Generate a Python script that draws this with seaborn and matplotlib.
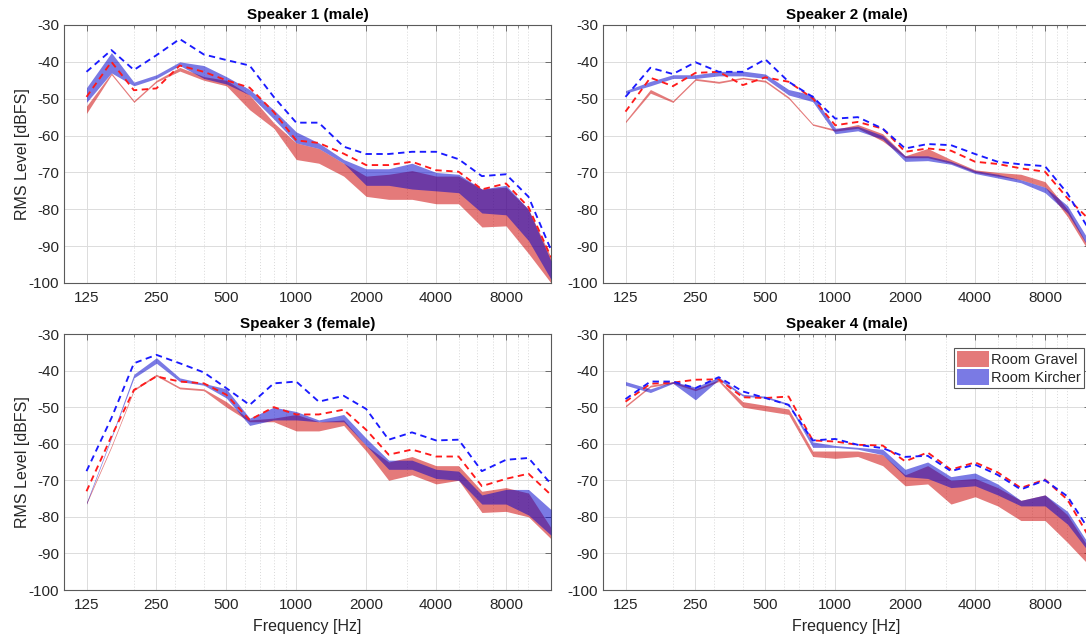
import numpy as np
import pandas as pd
import matplotlib
matplotlib.use("Agg")
import matplotlib.pyplot as plt
import seaborn as sns
from matplotlib.ticker import FixedLocator, FixedFormatter, LogLocator, NullFormatter
from matplotlib.patches import Patch

# ---------------- data ----------------
freqs = [125, 160, 200, 250, 315, 400, 500, 630, 800, 1000, 1250, 1600,
         2000, 2500, 3150, 4000, 5000, 6300, 8000, 10000, 12500]
xtick_vals = [125, 250, 500, 1000, 2000, 4000, 8000]
xtick_labels = ["125", "250", "500", "1000", "2000", "4000", "8000"]
ytick_vals = [-100, -90, -80, -70, -60, -50, -40, -30]
titles = ["Speaker 1 (male)", "Speaker 2 (male)", "Speaker 3 (female)", "Speaker 4 (male)"]
rooms = ["Room Gravel", "Room Kircher"]

# Speaker 1
s1_gravel_lo = [-54, -43.5, -51, -45.5, -42.5, -45, -46.5, -53, -58, -66.5, -67.5, -71,
                -76.5, -77.3, -77.3, -78.5, -78.5, -84.8, -84.5, -92, -100]
s1_gravel_hi = [-52, -43, -50.5, -45, -41.5, -44, -45, -49, -56.5, -62, -63.5, -67.5,
                -71, -70.5, -69.5, -71, -71, -74.5, -74, -80, -93]
s1_kircher_lo = [-51, -43, -46.5, -44.5, -41, -44.5, -46, -49, -55.5, -62, -63.5, -67.5,
                 -73.5, -73.5, -74.5, -75, -75.5, -81, -81.5, -88.5, -99]
s1_kircher_hi = [-47, -37.5, -45.5, -43.5, -40, -41, -44, -47.5, -53, -59, -62, -66.5,
                 -69, -69, -67.5, -70, -70.5, -74.5, -73.5, -80, -94]
s1_gravel_dash = [-49.5, -40, -47.7, -47.2, -41, -42.7, -45, -47, -53.6, -61.3, -62, -64.9,
                  -68, -68, -67.1, -69.4, -69.8, -74.6, -73, -79.4, -93]
s1_kircher_dash = [-42.7, -36.8, -42.2, -38.2, -33.8, -38, -39.5, -41, -49.5, -56.5, -56.5, -63,
                   -65, -65, -64.4, -64.4, -66.4, -71, -70.5, -76.6, -91]

# Speaker 2
s2_gravel_lo = [-56.5, -48.5, -51, -45, -45.8, -44.6, -45.5, -50, -57.2, -58.8, -58, -61.5,
                -66, -66, -67.5, -70, -71, -72, -74, -82, -92]
s2_gravel_hi = [-56, -47.5, -50.5, -44.5, -45.3, -44.2, -45, -49.5, -56.8, -58.3, -57, -59.5,
                -65.5, -63.5, -66.5, -69.3, -70, -70.5, -72.5, -80, -91]
s2_kircher_lo = [-48.5, -46.5, -44.5, -44.5, -43.8, -43.8, -44.5, -49, -50.8, -59.5, -58.7, -61,
                 -67, -66.8, -67.8, -70.3, -71.5, -72.8, -75.5, -81, -91]
s2_kircher_hi = [-47.8, -45.3, -43.5, -43.5, -42.6, -42.5, -43.3, -47.5, -49, -58, -57.5, -60,
                 -65.5, -65.5, -67, -69.5, -70.5, -72, -74, -79, -89]
s2_gravel_dash = [-53.5, -44.3, -46.6, -43, -42.7, -46.3, -44.2, -45.4, -49.9, -57.2, -56.3, -58.1,
                  -64.4, -63.5, -64.1, -67.1, -67.7, -68.9, -69.8, -77, -83]
s2_kircher_dash = [-49.5, -41.6, -43.3, -40.1, -42.7, -42.7, -39.3, -45.4, -49.5, -55.4, -55, -58.1,
                   -63.5, -62.3, -62.6, -65, -67.1, -67.8, -68.3, -75.7, -86]

# Speaker 3
s3_gravel_lo = [-76.5, -61, -45.5, -41.5, -45, -45.5, -50, -54, -54, -56.5, -56.5, -55,
                -62, -70, -68.5, -71, -70, -78.8, -78.5, -80, -86]
s3_gravel_hi = [-76, -60.5, -45, -41, -44.5, -45, -48.5, -53.5, -53, -52, -54, -53.5,
                -60.5, -65, -63.5, -66, -66, -73, -72, -73.5, -83]
s3_kircher_lo = [-76.5, -58.5, -42, -38, -43, -44, -47.5, -55, -53.5, -53.5, -54, -54,
                 -60.5, -67, -67, -69.5, -70, -76.5, -76.5, -79.5, -85]
s3_kircher_hi = [-76, -58, -41, -36.5, -42, -43.5, -45, -53, -50, -51.2, -53.5, -52,
                 -58.5, -64.5, -64.5, -67, -67.5, -74, -72.5, -72.5, -78]
s3_gravel_dash = [-73, -58, -45.3, -41.6, -43, -43.5, -46.6, -53.5, -50, -52, -52, -50.7,
                  -56.2, -63, -61.6, -63.5, -63.5, -71.6, -69.6, -68.2, -74]
s3_kircher_dash = [-67.5, -53, -38, -35.7, -38, -40.5, -44.8, -49.4, -43.5, -43, -48.5, -46.9,
                   -50.5, -58.9, -56.9, -59.1, -58.9, -67.5, -64.4, -63.9, -71]

# Speaker 4
s4_gravel_lo = [-50, -44.5, -43.5, -45.5, -43, -50, -51, -52, -63.5, -64, -63.5, -66,
                -71.5, -71, -76.5, -74.5, -77, -81, -81, -87, -93.5]
s4_gravel_hi = [-49.5, -44, -43, -45, -42.5, -48.5, -49.5, -50.5, -62, -62, -62, -63,
                -68.5, -66, -70, -69.5, -72, -75.5, -74, -79.5, -89]
s4_kircher_lo = [-44, -46, -43.5, -48, -42.5, -47, -47.5, -49.5, -61, -61, -61.5, -63,
                 -69, -69.5, -72, -71.5, -74, -77, -77, -82, -90]
s4_kircher_hi = [-43, -45, -43, -44.5, -41.8, -46.5, -47, -49, -59.5, -60.5, -61, -61.5,
                 -67, -65, -69, -68, -71, -75.5, -74, -78.5, -88]
s4_gravel_dash = [-48.5, -43.6, -43.3, -42.5, -42.4, -47.3, -47.5, -47.1, -59.1, -59.4, -60.3, -60.5,
                  -64.8, -62.4, -67.1, -65.1, -67.8, -72.1, -69.8, -75.3, -86]
s4_kircher_dash = [-47.8, -43, -43, -44.8, -41.8, -45.7, -47.5, -49.4, -59.1, -58.7, -60.3, -61.2,
                   -63.6, -63.3, -67.5, -65.7, -68.5, -72.5, -70, -74.4, -84]

speakers = [
    (s1_gravel_lo, s1_gravel_hi, s1_kircher_lo, s1_kircher_hi, s1_gravel_dash, s1_kircher_dash),
    (s2_gravel_lo, s2_gravel_hi, s2_kircher_lo, s2_kircher_hi, s2_gravel_dash, s2_kircher_dash),
    (s3_gravel_lo, s3_gravel_hi, s3_kircher_lo, s3_kircher_hi, s3_gravel_dash, s3_kircher_dash),
    (s4_gravel_lo, s4_gravel_hi, s4_kircher_lo, s4_kircher_hi, s4_gravel_dash, s4_kircher_dash),
]

# ---------------- style ----------------
sns.set_theme(style="white")
plt.rcParams["font.family"] = ["Liberation Sans", "DejaVu Sans"]
plt.rcParams["axes.unicode_minus"] = False

TXT = "#262626"
RED_FILL = (0.8, 0.0, 0.0)
BLUE_FILL = (0.0, 0.0, 0.8)
FILL_ALPHA = 0.52

W, H = 1086, 641
fig = plt.figure(figsize=(W / 100, H / 100), dpi=100)

# axes boxes in pixels: (x0, x1, ytop, ybottom)
boxes = [(64, 551, 25, 283), (603, 1090, 25, 283),
         (64, 551, 334, 590), (603, 1090, 334, 590)]

for i, (x0, x1, yt, yb) in enumerate(boxes):
    ax = fig.add_axes([x0 / W, 1 - yb / H, (x1 - x0) / W, (yb - yt) / H])
    g_lo, g_hi, k_lo, k_hi, g_d, k_d = speakers[i]
    ax.set_xscale("log")

    ax.fill_between(freqs, g_lo, g_hi, color=RED_FILL, alpha=FILL_ALPHA, lw=0, zorder=2)
    ax.fill_between(freqs, k_lo, k_hi, color=BLUE_FILL, alpha=FILL_ALPHA, lw=0, zorder=3)

    df = pd.DataFrame({
        "freq": freqs * 2,
        "level": list(g_d) + list(k_d),
        "room": ["Gravel"] * len(freqs) + ["Kircher"] * len(freqs),
    })
    sns.lineplot(data=df, x="freq", y="level", hue="room", style="room",
                 palette={"Gravel": "#ff1a1a", "Kircher": "#1a1aff"},
                 dashes={"Gravel": (3.4, 2.4), "Kircher": (3.4, 2.4)},
                 lw=1.35, legend=False, ax=ax, zorder=4)

    ax.set_xlim(100, 12500)
    ax.set_ylim(-100, -30)
    ax.xaxis.set_major_locator(FixedLocator(xtick_vals))
    ax.xaxis.set_major_formatter(FixedFormatter(xtick_labels))
    ax.xaxis.set_minor_locator(LogLocator(base=10, subs=np.arange(1, 10), numticks=50))
    ax.xaxis.set_minor_formatter(NullFormatter())
    ax.set_yticks(ytick_vals)
    ax.set_yticklabels([str(v) for v in ytick_vals])

    ax.grid(True, which="major", color="#dcdcdc", lw=0.7, ls="-", zorder=0)
    ax.grid(True, which="minor", axis="x", color="#d8d8d8", lw=0.7, ls=(0, (1, 2)), zorder=0)
    ax.set_axisbelow(True)

    for sp in ax.spines.values():
        sp.set_visible(True)
        sp.set_color("#5a5a5a")
        sp.set_linewidth(0.8)
    ax.tick_params(which="both", direction="in", top=True, right=True,
                   colors="#5a5a5a", labelcolor=TXT, labelsize=11)
    ax.tick_params(which="major", length=4, width=0.6)
    ax.tick_params(which="minor", length=2, width=0.5)
    ax.tick_params(axis="x", pad=6)

    ax.set_title(titles[i], fontsize=11, fontweight="bold", color="black", pad=4)
    if i in (0, 2):
        ax.set_ylabel("RMS Level [dBFS]", fontsize=11.5, color=TXT, labelpad=-1)
    else:
        ax.set_ylabel("")
    if i in (2, 3):
        ax.set_xlabel("Frequency [Hz]", fontsize=11.5, color=TXT, labelpad=5)
    else:
        ax.set_xlabel("")

    if i == 3:
        handles = [Patch(facecolor=RED_FILL, alpha=FILL_ALPHA, lw=0, label=rooms[0]),
                   Patch(facecolor=BLUE_FILL, alpha=FILL_ALPHA, lw=0, label=rooms[1])]
        leg = ax.legend(handles=handles, loc="upper right", bbox_to_anchor=(0.993, 0.955),
                        fontsize=10.5, frameon=True, fancybox=False, framealpha=1,
                        edgecolor="#555555", borderpad=0.2, handlelength=2.2,
                        handleheight=1.3, handletextpad=0.15, labelspacing=0.1,
                        borderaxespad=0.2)
        leg.get_frame().set_linewidth(0.8)
        for t in leg.get_texts():
            t.set_color(TXT)

fig.savefig("out.png", dpi=100)
